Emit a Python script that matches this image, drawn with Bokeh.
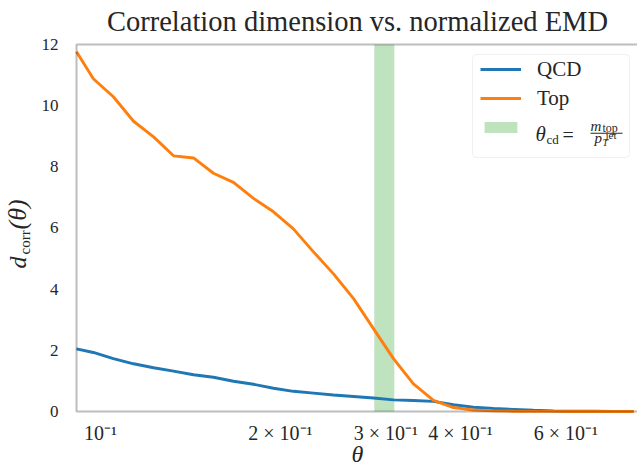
import math
from bokeh.plotting import figure
from bokeh.models import (Range1d, FixedTicker, Legend, LegendItem, Label, BoxAnnotation)
from bokeh.embed import file_html
from bokeh.resources import INLINE

# ---------------- data ----------------
theta = [0.0912, 0.0973, 0.1051, 0.1136, 0.1227, 0.1325, 0.1431, 0.1545, 0.1669,
         0.1803, 0.1947, 0.2102, 0.2271, 0.2453, 0.2650, 0.2861, 0.3090, 0.3337,
         0.3605, 0.3893, 0.4205, 0.4541, 0.4906, 0.5298, 0.5722, 0.6180, 0.6674,
         0.7208, 0.7788]
qcd = [2.05, 1.93, 1.73, 1.56, 1.43, 1.32, 1.20, 1.12, 0.99, 0.89, 0.76, 0.66,
       0.60, 0.54, 0.49, 0.44, 0.38, 0.36, 0.33, 0.22, 0.14, 0.10, 0.07, 0.04,
       0.02, 0.01, 0.008, 0.005, 0.004]
top = [11.76, 10.88, 10.29, 9.49, 8.98, 8.36, 8.29, 7.79, 7.49, 6.97, 6.53, 5.97,
       5.22, 4.50, 3.69, 2.71, 1.73, 0.90, 0.36, 0.13, 0.05, 0.02, 0.01, 0.005,
       0.003, 0.002, 0.001, 0.001, 0.0]
band = [0.287, 0.310]          # theta_cd = m_top / pT_jet band
x_lim = [0.0912, 0.85]         # axes box (right side lies past the picture edge)
y_ticks = [0, 2, 4, 6, 8, 10, 12]
x_ticks = [0.1, 0.2, 0.3, 0.4, 0.6]
x_tick_labels = ["10\u207b\u00b9", "2 \u00d7 10\u207b\u00b9", "3 \u00d7 10\u207b\u00b9",
                 "4 \u00d7 10\u207b\u00b9", "6 \u00d7 10\u207b\u00b9"]
series_names = ["QCD", "Top"]
title_text = "Correlation dimension vs. normalized EMD"

# visible window (whole canvas is the frame; axes box sits inside it)
view_x = [0.06806, 0.7907]
view_y = [-1.7984, 13.4387]

# ---------------- styling ----------------
FONT = "Liberation Serif"
TXT = "#262626"
BLUE, ORANGE, GREEN = "#1f77b4", "#ff7f0e", "#2ca02c"

p = figure(width=637, height=466, x_axis_type="log",
           x_range=Range1d(view_x[0], view_x[1]), y_range=Range1d(view_y[0], view_y[1]),
           output_backend="svg", toolbar_location=None,
           min_border_left=0, min_border_right=0, min_border_top=0, min_border_bottom=0)
p.outline_line_color = None
p.xgrid.visible = False
p.ygrid.visible = False
p.background_fill_color = "white"
p.border_fill_color = "white"

r_band = p.quad(left=[band[0]], right=[band[1]], bottom=[y_ticks[0]], top=[y_ticks[-1]],
                fill_color=GREEN, fill_alpha=0.3, line_color=None)
r_qcd = p.line(theta, qcd, line_color=BLUE, line_width=2.9)
r_top = p.line(theta, top, line_color=ORANGE, line_width=2.9)

# axes (placed on the box edges)
for ax in (p.xaxis[0], p.yaxis[0]):
    ax.axis_line_color = None
    ax.major_tick_line_color = None
    ax.minor_tick_line_color = None
    ax.major_tick_out = 0
    ax.major_tick_in = 0
    ax.minor_tick_out = 0
    ax.minor_tick_in = 0
    ax.major_label_text_font = FONT
    ax.major_label_text_color = TXT

p.yaxis[0].fixed_location = x_lim[0]
p.yaxis[0].ticker = FixedTicker(ticks=y_ticks)
p.yaxis[0].major_label_text_font_size = "17px"
p.yaxis[0].major_label_standoff = 18

p.xaxis[0].fixed_location = y_ticks[0]
p.xaxis[0].ticker = FixedTicker(ticks=x_ticks, minor_ticks=[])
p.xaxis[0].major_label_overrides = {t: s for t, s in zip(x_ticks, x_tick_labels)}
p.xaxis[0].major_label_text_font_size = "20px"
p.xaxis[0].major_label_standoff = 11

# spines
p.add_layout(BoxAnnotation(left=x_lim[0], right=x_lim[1], bottom=y_ticks[0], top=y_ticks[-1],
                           fill_alpha=0, line_color=TXT, line_width=2))

def lab(txt, x, y, fs, style="normal", align="left", angle=0.0):
    # (x, y) is the wanted start of the text baseline, canvas pixels from the top-left;
    # Bokeh draws the alphabetic baseline about 0.3 em lower, so compensate.
    shift = 0.3 * fs
    if angle:
        x = x - shift
    else:
        y = y - shift
    p.add_layout(Label(x=x, y=y, x_units="canvas", y_units="canvas", text=txt, angle=angle,
                       text_font=FONT, text_font_size=f"{fs}px", text_font_style=style,
                       text_color=TXT, text_align=align, text_baseline="alphabetic"))

# title and axis labels
lab(title_text, 357, 30, 28.5, align="center")
lab("\u03b8", 357, 461, 24, "italic", align="center")
ang = math.pi / 2
lab("d", 25, 268, 24, "italic", angle=ang)
lab("corr", 29, 254, 15, angle=ang)
lab("(\u03b8)", 25, 229, 26, "italic", angle=ang)

# legend frame
p.add_layout(BoxAnnotation(left=472, right=629, top=54, bottom=157,
                           left_units="canvas", right_units="canvas",
                           top_units="canvas", bottom_units="canvas",
                           fill_color="white", fill_alpha=0.8,
                           line_color="#cccccc", line_width=1, border_radius=4))

legend = Legend(items=[LegendItem(label=series_names[0], renderers=[r_qcd]),
                       LegendItem(label=series_names[1], renderers=[r_top]),
                       LegendItem(label=" ", renderers=[r_band])],
                location=(480, 326), padding=0, margin=0, spacing=3,
                glyph_width=41, glyph_height=14, label_height=26, label_standoff=16,
                border_line_color=None, background_fill_alpha=0,
                label_text_font=FONT, label_text_font_size="21px", label_text_color=TXT)
p.add_layout(legend)

# math legend label: theta_cd = m_top / p_T^jet
lab("\u03b8", 535, 140, 21, "italic")
lab("cd", 546, 143, 13)
lab("=", 562, 140, 20)
lab("m", 590, 129.5, 15, "italic")
lab("top", 602, 131, 12)
lab("p", 594, 141.5, 15, "italic")
lab("T", 602, 144.5, 10, "italic")
lab("jet", 605, 138, 11)
p.add_layout(BoxAnnotation(left=590, right=622, top=132.2, bottom=133.3,
                           left_units="canvas", right_units="canvas",
                           top_units="canvas", bottom_units="canvas",
                           fill_color=TXT, fill_alpha=1, line_color=None))

open("out.html", "w").write(file_html(p, INLINE))
